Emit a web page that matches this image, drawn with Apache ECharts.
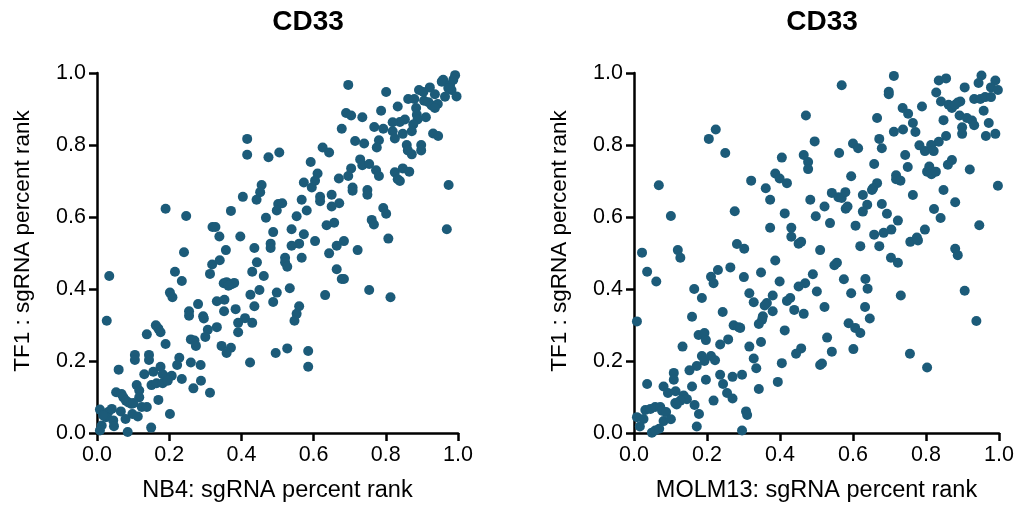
<!DOCTYPE html>
<html>
<head>
<meta charset="utf-8">
<script src="https://cdn.jsdelivr.net/npm/echarts@6/dist/echarts.min.js"></script>
<style>html,body{margin:0;padding:0;background:#fff;}#chart{width:1018px;height:508px;}</style>
</head>
<body>
<div id="chart"></div>
<script>
var titles = ['CD33', 'CD33'];
var xNames = ['NB4: sgRNA percent rank', 'MOLM13: sgRNA percent rank'];
var yNames = ['TF1 : sgRNA percent rank', 'TF1 : sgRNA percent rank'];
var tickValues = [0, 0.2, 0.4, 0.6, 0.8, 1.0];

// Left panel: [NB4 rank, TF1 rank]
var nb4VsTf1 = [
[0.416,0.817],[0.416,0.773],[0.475,0.766],[0.505,0.779],[0.456,0.689],[0.452,0.669],[0.404,0.656],[0.442,0.648],[0.190,0.623],[0.247,0.603],[0.371,0.617],[0.468,0.598],[0.320,0.572],[0.328,0.572],[0.339,0.546],[0.397,0.546],[0.488,0.558],[0.481,0.526],[0.481,0.514],[0.436,0.514],[0.357,0.508],[0.241,0.502],
[0.034,0.436],[0.216,0.448],[0.235,0.422],[0.319,0.468],[0.340,0.480],[0.313,0.442],[0.443,0.474],[0.430,0.448],[0.462,0.436],[0.351,0.416],[0.359,0.419],[0.373,0.413],[0.380,0.417],[0.364,0.409],[0.202,0.390],[0.209,0.377],[0.027,0.312],[0.255,0.338],[0.255,0.326],[0.280,0.358],[0.294,0.324],[0.296,0.318],[0.332,0.366],[0.353,0.370],[0.352,0.338],[0.384,0.344],[0.425,0.384],[0.436,0.352],[0.450,0.397],[0.488,0.364],[0.498,0.390],[0.495,0.222],[0.410,0.319],[0.391,0.306],[0.430,0.306],[0.391,0.280],[0.332,0.294],[0.307,0.287],[0.300,0.267],[0.260,0.260],[0.270,0.257],[0.274,0.242],[0.345,0.242],[0.371,0.237],[0.359,0.222],[0.424,0.196],[0.163,0.299],[0.170,0.290],[0.176,0.280],[0.138,0.274],[0.190,0.247],[0.105,0.217],[0.105,0.203],[0.144,0.217],[0.144,0.203],[0.228,0.209],[0.222,0.189],[0.260,0.196],[0.287,0.189],[0.060,0.176],[0.131,0.163],[0.156,0.170],[0.176,0.184],[0.182,0.163],[0.193,0.154],[0.207,0.159],[0.235,0.150],[0.151,0.133],[0.165,0.138],[0.182,0.138],[0.196,0.145],[0.288,0.145],[0.267,0.124],[0.313,0.112],[0.110,0.133],[0.117,0.118],[0.117,0.099],[0.053,0.113],[0.068,0.108],[0.073,0.099],[0.080,0.090],[0.087,0.085],[0.096,0.081],[0.101,0.083],[0.170,0.092],[0.124,0.072],[0.138,0.072],[0.008,0.065],[0.031,0.058],[0.041,0.067],[0.025,0.044],[0.017,0.049],[0.066,0.060],[0.098,0.053],[0.113,0.046],[0.045,0.035],[0.047,0.019],[0.079,0.039],[0.202,0.053],[0.013,0.021],[0.008,0.007],[0.085,0.003],[0.150,0.015],
[0.696,0.967],[0.801,0.947],[0.992,0.994],[0.987,0.981],[0.959,0.981],[0.955,0.976],[0.978,0.967],[0.982,0.953],[0.973,0.958],[0.996,0.935],[0.922,0.960],[0.892,0.953],[0.904,0.947],[0.936,0.941],[0.964,0.934],[0.862,0.928],[0.879,0.928],[0.906,0.923],[0.918,0.919],[0.927,0.910],[0.944,0.914],[0.936,0.903],[0.884,0.903],[0.833,0.907],[0.787,0.895],[0.690,0.889],[0.704,0.882],[0.735,0.877],[0.886,0.884],[0.888,0.871],[0.911,0.877],[0.853,0.871],[0.839,0.864],[0.819,0.863],[0.876,0.857],[0.872,0.838],[0.768,0.850],[0.793,0.845],[0.678,0.845],[0.819,0.838],[0.825,0.818],[0.847,0.831],[0.931,0.832],[0.945,0.825],[0.715,0.811],[0.740,0.804],[0.781,0.813],[0.775,0.793],[0.858,0.800],[0.861,0.785],[0.872,0.774],[0.898,0.800],[0.898,0.785],[0.625,0.793],[0.643,0.779],[0.592,0.753],[0.729,0.760],[0.735,0.744],[0.754,0.747],[0.704,0.735],[0.696,0.714],[0.773,0.730],[0.781,0.714],[0.825,0.724],[0.833,0.705],[0.839,0.700],[0.847,0.735],[0.865,0.726],[0.611,0.721],[0.604,0.701],[0.595,0.682],[0.573,0.696],[0.670,0.707],[0.708,0.682],[0.708,0.673],[0.749,0.675],[0.749,0.662],[0.974,0.689],[0.650,0.662],[0.618,0.656],[0.618,0.644],[0.567,0.648],[0.671,0.638],[0.650,0.629],[0.502,0.636],[0.513,0.638],[0.498,0.618],[0.581,0.618],[0.553,0.602],[0.793,0.625],[0.801,0.609],[0.761,0.592],[0.767,0.579],[0.657,0.584],[0.636,0.577],[0.539,0.566],[0.573,0.552],[0.560,0.526],[0.539,0.520],[0.604,0.533],[0.684,0.533],[0.664,0.520],[0.807,0.540],[0.969,0.566],[0.722,0.508],[0.643,0.499],
[0.521,0.487],[0.521,0.474],[0.527,0.462],[0.567,0.487],[0.664,0.455],[0.678,0.428],[0.684,0.428],[0.534,0.402],[0.632,0.383],[0.754,0.397],[0.813,0.377],[0.560,0.352],[0.553,0.331],[0.547,0.312],[0.527,0.235],[0.585,0.228],[0.585,0.184]
];

// Right panel: [MOLM13 rank, TF1 rank]
var molm13VsTf1 = [
[0.471,0.882],[0.224,0.843],[0.205,0.817],[0.495,0.810],[0.250,0.778],[0.405,0.765],[0.465,0.772],[0.477,0.753],[0.477,0.733],[0.068,0.688],[0.321,0.701],[0.387,0.721],[0.399,0.707],[0.419,0.694],[0.361,0.680],[0.373,0.648],[0.483,0.648],[0.276,0.616],[0.413,0.610],[0.498,0.602],[0.101,0.603],[0.373,0.570],[0.431,0.570],[0.431,0.545],[0.451,0.526],[0.458,0.531],[0.282,0.525],[0.302,0.512],[0.022,0.501],[0.120,0.508],
[0.127,0.487],[0.036,0.448],[0.061,0.421],[0.230,0.453],[0.264,0.460],[0.211,0.434],[0.218,0.416],[0.301,0.433],[0.348,0.446],[0.387,0.479],[0.399,0.421],[0.490,0.441],[0.469,0.416],[0.451,0.407],[0.501,0.393],[0.165,0.400],[0.186,0.375],[0.316,0.388],[0.328,0.363],[0.380,0.382],[0.364,0.361],[0.358,0.354],[0.428,0.375],[0.419,0.367],[0.439,0.342],[0.465,0.331],[0.380,0.338],[0.243,0.336],[0.159,0.323],[0.008,0.310],[0.353,0.324],[0.351,0.315],[0.342,0.303],[0.273,0.299],[0.287,0.294],[0.291,0.292],[0.413,0.285],[0.177,0.272],[0.193,0.278],[0.197,0.258],[0.258,0.260],[0.236,0.246],[0.133,0.240],[0.348,0.253],[0.316,0.240],[0.458,0.235],[0.444,0.220],[0.186,0.214],[0.193,0.200],[0.211,0.214],[0.222,0.202],[0.328,0.207],[0.172,0.186],[0.152,0.174],[0.405,0.194],[0.335,0.180],[0.109,0.167],[0.109,0.148],[0.236,0.162],[0.270,0.156],[0.296,0.162],[0.197,0.148],[0.036,0.136],[0.081,0.129],[0.159,0.129],[0.244,0.136],[0.394,0.142],[0.342,0.122],[0.093,0.111],[0.114,0.116],[0.255,0.111],[0.270,0.096],[0.136,0.104],[0.145,0.094],[0.127,0.090],[0.117,0.079],[0.113,0.083],[0.166,0.078],[0.218,0.090],[0.031,0.064],[0.045,0.067],[0.058,0.072],[0.072,0.072],[0.077,0.062],[0.088,0.058],[0.178,0.053],[0.307,0.060],[0.310,0.050],[0.008,0.044],[0.026,0.039],[0.016,0.018],[0.081,0.033],[0.101,0.038],[0.172,0.018],[0.049,0.001],[0.058,0.007],[0.069,0.012],[0.296,0.007],
[0.712,0.992],[0.569,0.966],[0.698,0.948],[0.698,0.941],[0.835,0.979],[0.855,0.985],[0.952,0.993],[0.944,0.972],[0.990,0.979],[0.906,0.960],[0.978,0.960],[0.997,0.953],[0.828,0.946],[0.932,0.928],[0.949,0.928],[0.962,0.933],[0.978,0.933],[0.841,0.921],[0.862,0.912],[0.871,0.903],[0.887,0.918],[0.894,0.921],[0.880,0.912],[0.789,0.907],[0.736,0.903],[0.751,0.887],[0.958,0.895],[0.666,0.875],[0.892,0.882],[0.912,0.875],[0.926,0.868],[0.932,0.855],[0.848,0.869],[0.764,0.861],[0.972,0.861],[0.899,0.849],[0.899,0.831],[0.737,0.843],[0.712,0.837],[0.771,0.836],[0.964,0.825],[0.990,0.831],[0.855,0.825],[0.835,0.809],[0.672,0.817],[0.679,0.791],[0.600,0.804],[0.614,0.791],[0.782,0.799],[0.797,0.783],[0.814,0.800],[0.821,0.783],[0.562,0.778],[0.743,0.772],[0.658,0.747],[0.750,0.739],[0.871,0.758],[0.860,0.745],[0.920,0.732],[0.803,0.726],[0.809,0.740],[0.815,0.719],[0.827,0.726],[0.595,0.713],[0.718,0.716],[0.718,0.705],[0.730,0.701],[0.666,0.694],[0.655,0.680],[0.652,0.675],[0.997,0.687],[0.848,0.675],[0.542,0.667],[0.560,0.655],[0.569,0.653],[0.579,0.669],[0.627,0.661],[0.764,0.661],[0.880,0.641],[0.522,0.629],[0.580,0.623],[0.585,0.629],[0.639,0.634],[0.627,0.615],[0.679,0.636],[0.693,0.609],[0.822,0.622],[0.840,0.597],[0.537,0.583],[0.607,0.576],[0.723,0.590],[0.946,0.577],[0.658,0.551],[0.684,0.556],[0.705,0.565],[0.797,0.565],[0.757,0.531],[0.775,0.543],[0.778,0.535],[0.620,0.519],[0.672,0.519],[0.510,0.508],[0.880,0.512],
[0.887,0.494],[0.704,0.487],[0.723,0.473],[0.549,0.466],[0.556,0.473],[0.575,0.427],[0.634,0.428],[0.640,0.401],[0.595,0.388],[0.731,0.382],[0.906,0.395],[0.522,0.350],[0.633,0.350],[0.646,0.318],[0.938,0.311],[0.588,0.305],[0.606,0.292],[0.620,0.278],[0.529,0.265],[0.542,0.226],[0.601,0.233],[0.756,0.220],[0.510,0.189],[0.515,0.193],[0.803,0.182]
];

var panels = [nb4VsTf1, molm13VsTf1];
var FONT = '"Liberation Sans", Arial, Helvetica, sans-serif';
var dotColor = '#1c5b79';
var grids = [
  {left: 97, right: 560, top: 73, bottom: 72},
  {left: 634, right: 19, top: 73, bottom: 72}
];
var titleCenters = [303, 817];

function fmt(v) { return v.toFixed(1); }

function makeAxis(i, isX) {
  return {
    type: 'value', gridIndex: i, min: 0, max: 1, interval: 0.2,
    name: isX ? xNames[i] : yNames[i],
    nameLocation: 'middle',
    nameGap: isX ? 46 : 63,
    nameTextStyle: isX
      ? {fontFamily: FONT, fontSize: 23.5, color: '#000'}
      : {fontFamily: FONT, fontSize: 22.5, color: '#000', padding: [0, 0, 0, 24]},
    axisLine: {show: true, onZero: false, lineStyle: {color: '#000', width: 2.5}},
    axisTick: {show: true, inside: false, length: 8, lineStyle: {color: '#000', width: 2.5}},
    axisLabel: {fontFamily: FONT, fontSize: 21.5, color: '#000', margin: 11, formatter: fmt},
    splitLine: {show: false}
  };
}

var option = {
  backgroundColor: '#fff',
  animation: false,
  title: titles.map(function (t, i) {
    return {text: t, left: titleCenters[i], top: 3, textAlign: 'center',
      textStyle: {fontFamily: FONT, fontSize: 28, fontWeight: 'bold', color: '#000'}};
  }),
  grid: grids,
  xAxis: [makeAxis(0, true), makeAxis(1, true)],
  yAxis: [makeAxis(0, false), makeAxis(1, false)],
  series: panels.map(function (d, i) {
    return {type: 'scatter', xAxisIndex: i, yAxisIndex: i, data: d, symbolSize: 10,
      clip: false, itemStyle: {color: dotColor, opacity: 1}};
  })
};

var chart = echarts.init(document.getElementById('chart'), null, {renderer: 'canvas'});
chart.setOption(option);
</script>
</body>
</html>
